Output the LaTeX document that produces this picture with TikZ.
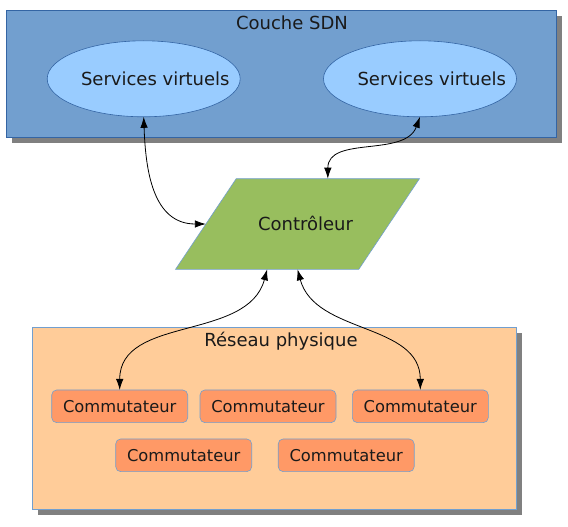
\documentclass[tikz,border=0pt]{standalone}
\usepackage{fontspec}
\setmainfont{DejaVu Sans}
\usetikzlibrary{shapes.geometric,shadows,arrows.meta}

\definecolor{sdnBlue}{RGB}{114,159,207}
\definecolor{sdnEdge}{RGB}{52,101,164}
\definecolor{svcBlue}{RGB}{153,204,255}
\definecolor{ctrlGreen}{RGB}{152,190,94}
\definecolor{netOrange}{RGB}{255,204,153}
\definecolor{swOrange}{RGB}{255,153,102}
\definecolor{txtDark}{RGB}{26,26,26}

\tikzset{
  layer/.style={draw=sdnEdge, line width=0.8pt, inner sep=0pt, outer sep=0pt,
    drop shadow={shadow xshift=5.5pt, shadow yshift=-6pt, fill=black!50, opacity=1}},
  svc/.style={ellipse, draw=sdnEdge, fill=svcBlue, line width=0.6pt,
    minimum width=193pt, minimum height=76pt, inner sep=0pt, outer sep=0pt},
  ctrlbox/.style={trapezium, trapezium left angle=56.2, trapezium right angle=123.8,
    draw=sdnBlue, fill=ctrlGreen, line width=0.6pt, text=txtDark,
    inner sep=0pt, outer sep=0pt},
  sw/.style={rounded corners=5pt, draw=sdnBlue, fill=swOrange, line width=0.6pt,
    minimum width=136pt, minimum height=32.7pt, inner sep=0pt, outer sep=0pt,
    text=txtDark, font=\fontsize{16.3}{19}\selectfont},
  link/.style={{Latex[length=11pt,width=7.5pt]}-{Latex[length=11pt,width=7.5pt]}, line width=0.8pt},
  lbl/.style={anchor=base, text=txtDark},
}

\begin{document}
\begin{tikzpicture}[x=1pt, y=-1pt, font=\fontsize{18}{21}\selectfont]
\fill[white] (0,0) rectangle (568,527);
\useasboundingbox (0,0) rectangle (568,527);
%% ---- Couche SDN ----
\node[layer, fill=sdnBlue, minimum width=550pt, minimum height=127pt] (sdn) at (281,73.5) {};
\node[lbl] (sdnTitle) at (292,29.3) {Couche SDN};
\node[svc] (svcL) at (143.7,78.8) {};
\node[svc] (svcR) at (420,78.8) {};
\node[lbl] (svcLtxt) at (155.3,85) {Services virtuels};
\node[lbl] (svcRtxt) at (431.8,85) {Services virtuels};
%% ---- Controleur ----
\node[ctrlbox] (ctrl) at (297.5,224)
  {\makebox[122.6pt]{\rule[-39.3pt]{0pt}{90.6pt}\hspace*{16pt}Contrôleur}};
%% ---- Reseau physique ----
\node[layer, draw=sdnBlue, fill=netOrange, minimum width=484.5pt, minimum height=182pt] (net) at (274.3,418) {};
\node[lbl] (netTitle) at (281,346.7) {Réseau physique};
\foreach \name/\x/\y in {sw1/119.7/406.3, sw2/268/406.3, sw3/420.3/406.3,
                          sw4/183.7/455.3, sw5/346.2/455.3}
  \node[sw] (\name) at (\x,\y) {Commutateur};
%% ---- liens ----
\draw[link] (svcL.south) to[out=-88, in=180, looseness=1.1] (ctrl.left side);
\draw[link] (svcR.south) to[out=-110, in=90] (ctrl.top side);
\draw[link] (ctrl.bottom side) to[out=-105, in=90] (sw1.north);
\draw[link] (ctrl.south) to[out=-75, in=90] (sw3.north);
\end{tikzpicture}
\end{document}
